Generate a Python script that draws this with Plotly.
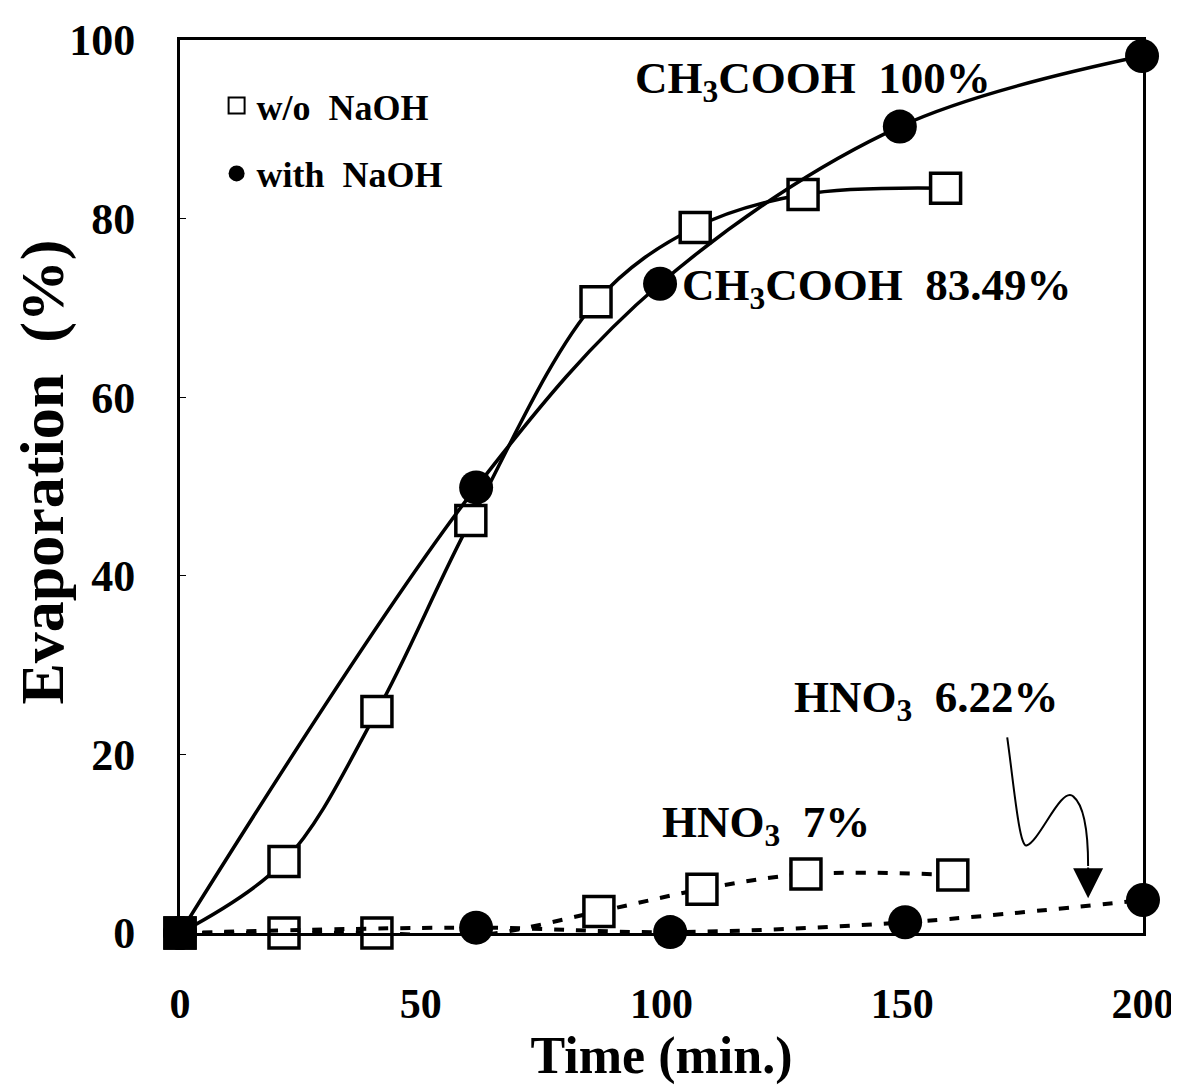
import plotly.graph_objects as go

# ---- data ----
t_wo_ac = [0, 21.6, 40.9, 60.4, 86.4, 107.0, 129.4, 159.0]
ev_wo_ac = [0, 8.0, 24.8, 46.2, 70.7, 79.0, 82.7, 83.4]

t_with_ac = [0, 61.5, 99.7, 149.5, 199.8]
ev_with_ac = [0, 49.9, 72.7, 90.3, 98.2]

t_wo_hno3 = [0, 21.6, 40.9, 61.5, 87.0, 108.4, 130.0, 160.5]
ev_wo_hno3 = [0, 0.0, 0.0, -0.3, 2.4, 4.9, 6.6, 6.5]

t_with_hno3 = [0, 61.5, 101.8, 150.6, 200.0]
ev_with_hno3 = [0, 0.6, 0.1, 1.2, 3.7]

x_ticks = [0, 50, 100, 150, 200]
y_ticks = [0, 20, 40, 60, 80, 100]

FONT = "Liberation Serif"

fig = go.Figure()

def sq_colors(n):
    return ["black"] + ["white"] * (n - 1)

# HNO3 lines (dashed)
fig.add_trace(go.Scatter(
    x=t_wo_hno3, y=ev_wo_hno3, mode="lines+markers",
    line=dict(color="black", width=4, dash="10px,12px", shape="spline", smoothing=1),
    marker=dict(symbol="square", size=30, color=sq_colors(len(t_wo_hno3)),
                line=dict(color="black", width=3.5)),
    showlegend=False, cliponaxis=False))
fig.add_trace(go.Scatter(
    x=t_with_hno3, y=ev_with_hno3, mode="lines+markers",
    line=dict(color="black", width=4, dash="10px,12px", shape="spline", smoothing=1),
    marker=dict(symbol="circle", size=34, color="black"),
    showlegend=False, cliponaxis=False))

# CH3COOH lines (solid)
fig.add_trace(go.Scatter(
    x=t_wo_ac, y=ev_wo_ac, mode="lines+markers",
    line=dict(color="black", width=3.5, shape="spline", smoothing=1),
    marker=dict(symbol="square", size=30, color=sq_colors(len(t_wo_ac)),
                line=dict(color="black", width=3.5)),
    showlegend=False, cliponaxis=False))
fig.add_trace(go.Scatter(
    x=t_with_ac, y=ev_with_ac, mode="lines+markers",
    line=dict(color="black", width=3.5, shape="spline", smoothing=1),
    marker=dict(symbol="circle", size=34, color="black"),
    showlegend=False, cliponaxis=False))

# legend entries
fig.add_trace(go.Scatter(
    x=[None], y=[None], mode="markers", name="w/o  NaOH", legendgroup="a",
    marker=dict(symbol="square", size=16, color="white", line=dict(color="black", width=2))))
fig.add_trace(go.Scatter(
    x=[None], y=[None], mode="markers", name="with  NaOH", legendgroup="b",
    marker=dict(symbol="circle", size=16, color="black")))

ann_font = dict(family=FONT, size=45, color="black", weight="bold")
annotations = [
    dict(x=94.0, y=95.4, text="CH<sub>3</sub>COOH  100%", xanchor="left", yanchor="middle",
         showarrow=False, font=ann_font),
    dict(x=103.8, y=72.2, text="CH<sub>3</sub>COOH  83.49%", xanchor="left", yanchor="middle",
         showarrow=False, font=ann_font),
    dict(x=127.0, y=26.1, text="HNO<sub>3</sub>  6.22%", xanchor="left", yanchor="middle",
         showarrow=False, font=ann_font),
    dict(x=99.6, y=12.1, text="HNO<sub>3</sub>  7%", xanchor="left", yanchor="middle",
         showarrow=False, font=ann_font),
    dict(x=188.6, y=3.9, ax=188.6, ay=7.5, axref="x", ayref="y", xref="x", yref="y",
         text="", showarrow=True, arrowhead=2, arrowsize=3, arrowwidth=2, arrowcolor="black"),
    dict(x=-0.143, y=0.516, xref="paper", yref="paper", text="Evaporation  (%)",
         textangle=-90, xanchor="center", yanchor="middle", showarrow=False,
         font=dict(family=FONT, size=62, color="black", weight="bold")),
]

fig.update_layout(
    width=1171, height=1083,
    margin=dict(l=172, r=36, t=32, b=158, autoexpand=False),
    paper_bgcolor="white", plot_bgcolor="white",
    font=dict(family=FONT, color="black", weight="bold"),
    annotations=annotations,
    shapes=[dict(type="path", xref="x", yref="y",
                 path="M 171.8 21.9 C 173.2 16.5, 174.3 9.6, 175.8 9.8 "
                      "C 178.5 10.2, 183 16.5, 185.5 15.3 C 188 14.2, 188.6 10.5, 188.6 7.5",
                 line=dict(color="black", width=2))],
    legend=dict(x=0.038, y=0.96, xanchor="left", yanchor="top",
                font=dict(family=FONT, size=36, color="black", weight="bold"),
                bgcolor="rgba(0,0,0,0)", tracegroupgap=18, itemwidth=30),
    xaxis=dict(range=[0, 200], tickvals=x_ticks, ticktext=[str(v) for v in x_ticks],
               automargin=False,
               showgrid=False, zeroline=False, showline=True, linecolor="black", linewidth=3,
               mirror=True, ticks="", ticklabelstandoff=32,
               tickfont=dict(family=FONT, size=42, color="black", weight="bold"),
               title=dict(text="Time (min.)", standoff=8,
                          font=dict(family=FONT, size=52, color="black", weight="bold"))),
    yaxis=dict(range=[0, 100], tickvals=y_ticks, ticktext=[str(v) for v in y_ticks],
               automargin=False,
               showgrid=False, zeroline=False, showline=True, linecolor="black", linewidth=3,
               mirror=True, ticks="inside", ticklen=6, tickcolor="black", ticklabelstandoff=33,
               tickfont=dict(family=FONT, size=44, color="black", weight="bold")),
)

fig.write_html("out.html")
